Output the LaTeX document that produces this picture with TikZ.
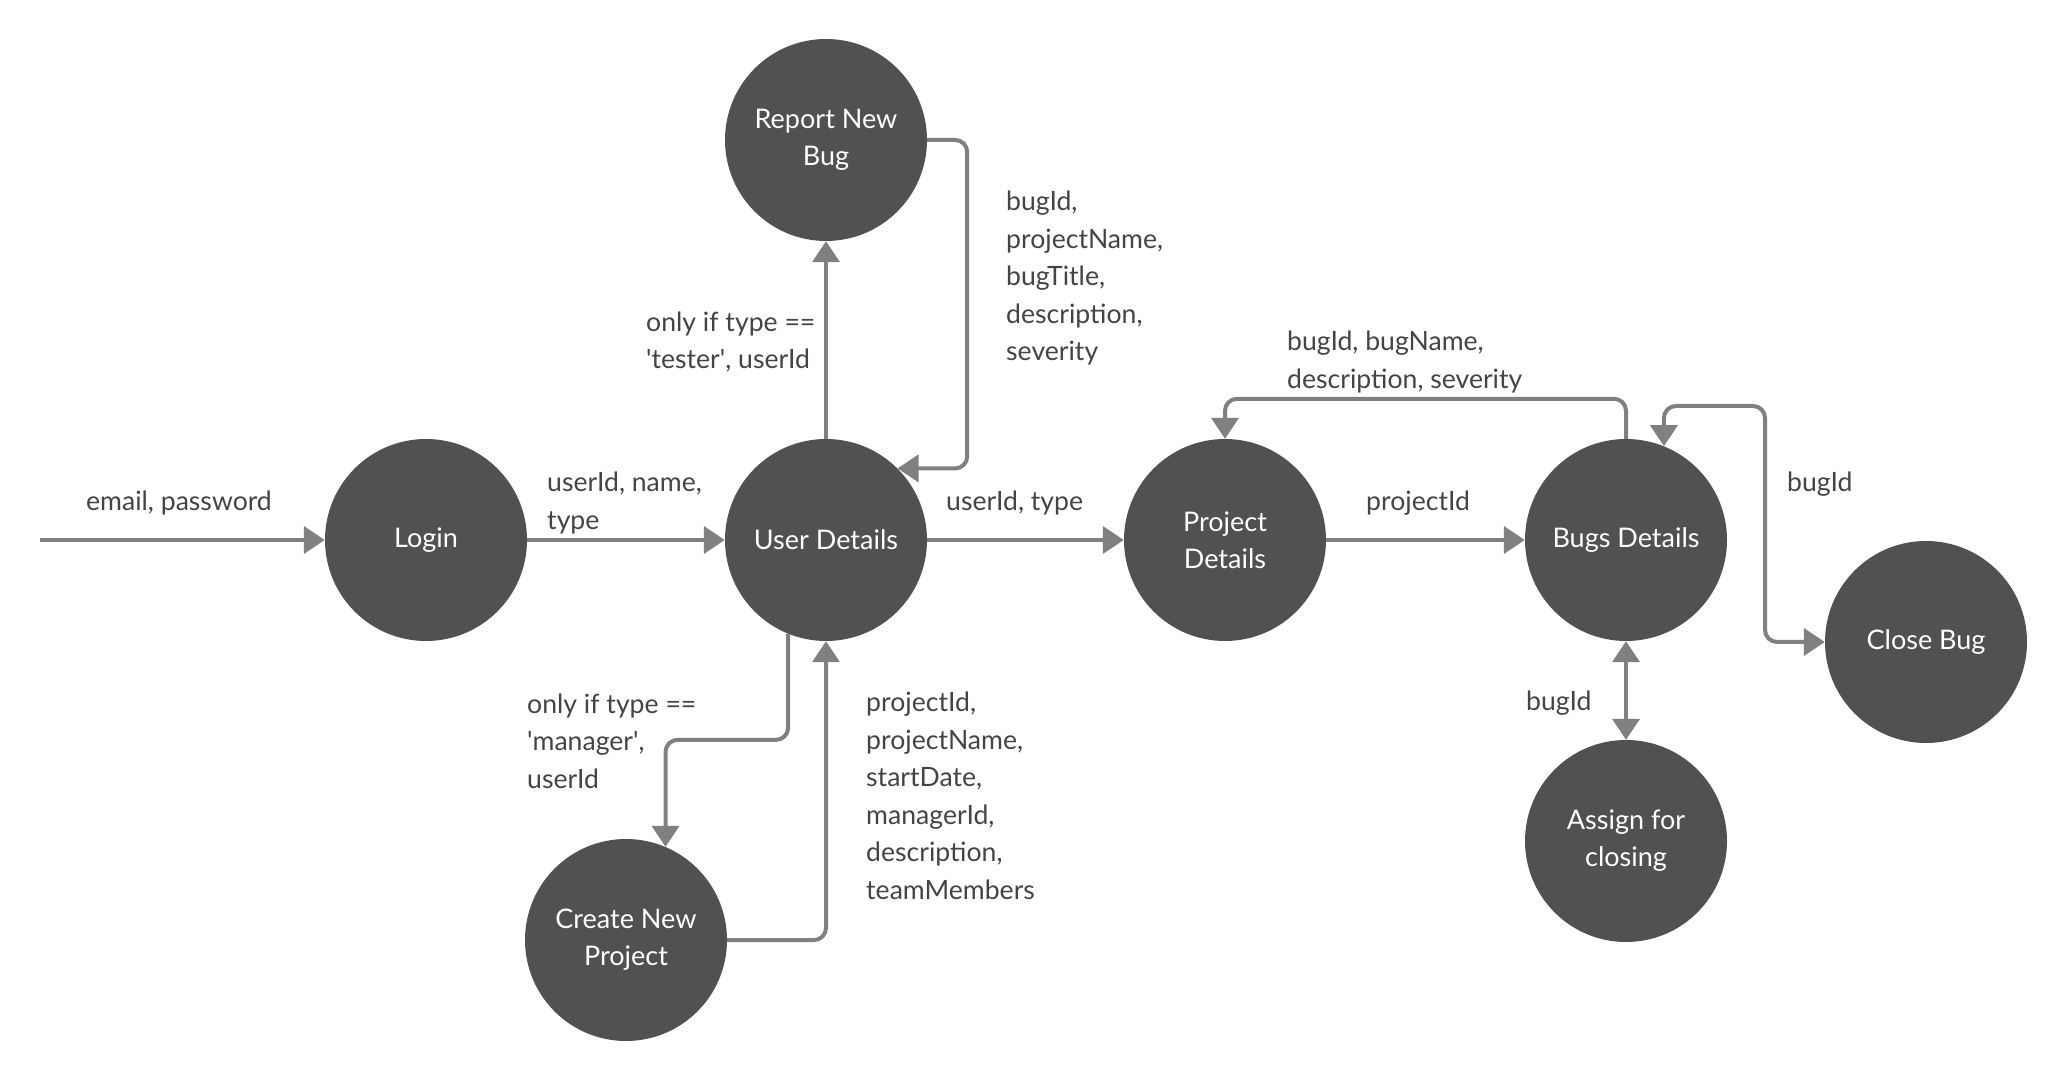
\documentclass[tikz,border=0pt]{standalone}
\usepackage{fontspec}
\setmainfont{Lato}
\usetikzlibrary{arrows.meta}

\definecolor{bubble}{HTML}{515151}
\definecolor{wire}{HTML}{808080}
\definecolor{ink}{HTML}{444444}

\tikzset{
    proc/.style={circle, fill=bubble, minimum size=202pt, inner sep=0pt,
        text=white, align=center, font=\fontsize{27}{37}\selectfont},
    lbl/.style={text=ink, align=left, anchor=west, inner sep=0pt,
        font=\fontsize{26.6}{37.5}\selectfont},
    flow/.style={draw=wire, line width=4pt, rounded corners=12pt,
        -{Triangle[length=21pt,width=27pt]}},
    biflow/.style={flow, {Triangle[length=21pt,width=27pt]}-{Triangle[length=21pt,width=27pt]}}
}

\begin{document}
\begin{tikzpicture}[x=1pt,y=1pt]
    \useasboundingbox (0,0) rectangle (2066,1080);

    % processes
    \node[proc] (login) at (426,540) {Login};
    \node[proc] (ud) at (826,540) {User Details};
    \node[proc] (rnb) at (826,940) {Report New\\Bug};
    \node[proc] (pd) at (1225,540) {Project\\Details};
    \node[proc] (bd) at (1626,540) {Bugs Details};
    \node[proc] (cb) at (1926,438) {Close Bug};
    \node[proc] (asg) at (1626,239) {Assign for\\closing};
    \node[proc] (cnp) at (626,140) {Create New\\Project};

    \coordinate (src) at (40,540);
    \coordinate (cbup) at (1765,674);

    % flows
    \draw[flow] (src) -- (login);
    \draw[flow] (login) -- (ud);
    \draw[flow] (ud) -- (rnb);
    \draw[flow] (rnb.east) -- ++(40,0) |- (ud.45);
    \draw[flow] (ud) -- (pd);
    \draw[flow] (pd) -- (bd);
    \draw[flow] (bd.north) -- ++(0,40) -| (pd.north);
    \draw[biflow] (bd.68) |- (cbup) |- (cb.west);
    \draw[biflow] (bd) -- (asg);
    \draw[flow] (ud.248) -- ++(0,-106) -| (cnp.67);
    \draw[flow] (cnp.east) -| (ud.south);

    % data labels
    \node[lbl, anchor=center] (l1) at (179,577) {email, password};
    \node[lbl] (l2) at (547,577) {userId, name,\\type};
    \node[lbl] (l3) at (646,738) {only if type ==\\\textquotesingle tester\textquotesingle, userId};
    \node[lbl] (l4) at (1006,802) {bugId,\\projectName,\\bugTitle,\\description,\\severity};
    \node[lbl] (l5) at (946,577) {userId, type};
    \node[lbl] (l6) at (1366,577) {projectId};
    \node[lbl] (l7) at (1287,718) {bugId, bugName,\\description, severity};
    \node[lbl] (l8) at (1787,596) {bugId};
    \node[lbl] (l9) at (1526,377) {bugId};
    \node[lbl] (l10) at (527,339) {only if type ==\\\textquotesingle manager\textquotesingle,\\userId};
    \node[lbl] (l11) at (866,284) {projectId,\\projectName,\\startDate,\\managerId,\\description,\\teamMembers};
\end{tikzpicture}
\end{document}
